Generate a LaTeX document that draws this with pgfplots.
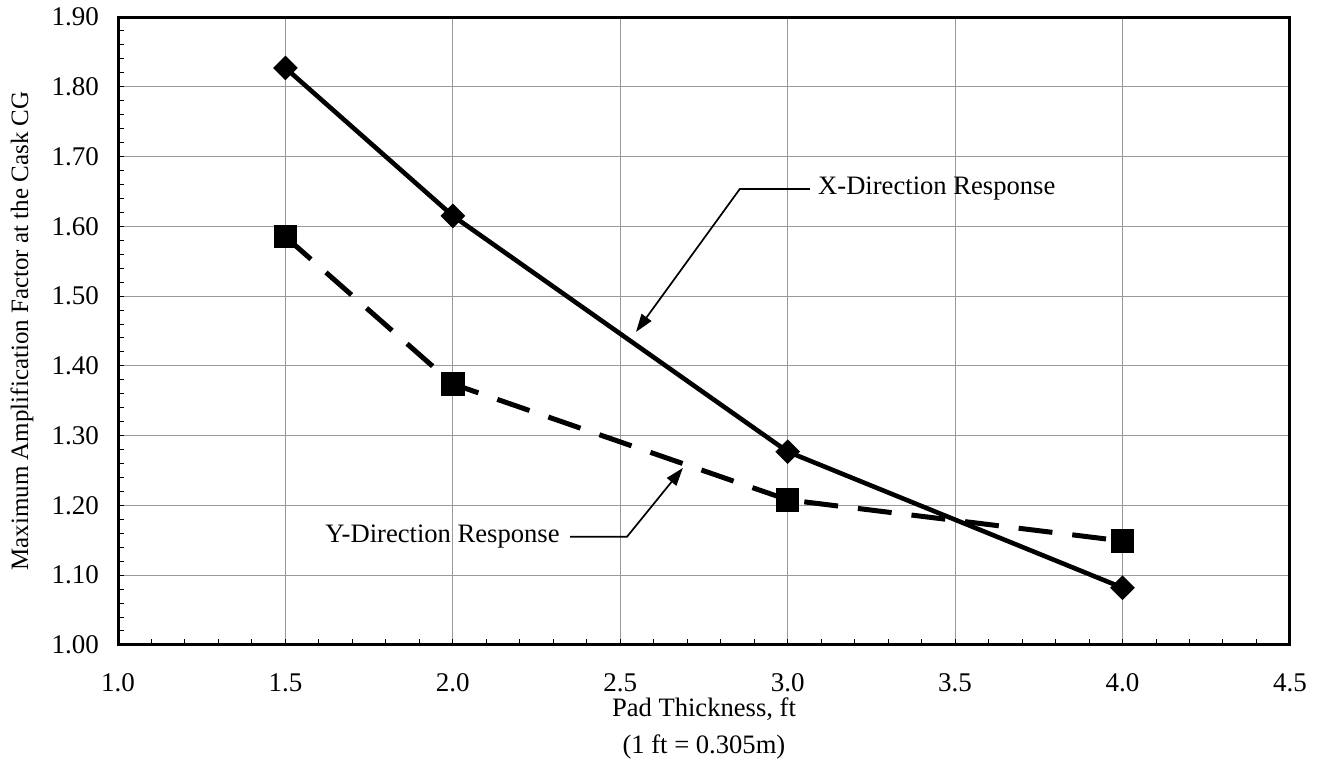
\documentclass[border=0pt]{standalone}
\usepackage{fontspec}
\setmainfont{Liberation Serif}
\usepackage{pgfplots}
\pgfplotsset{compat=1.18}
\usetikzlibrary{arrows.meta}

\begin{document}
\begin{tikzpicture}[font=\fontsize{13.3}{18.5}\selectfont]
\begin{axis}[
  scale only axis, width=586pt, height=314pt,
  xmin=1, xmax=4.5, ymin=1, ymax=1.9,
  xtick={1.0,1.5,2.0,2.5,3.0,3.5,4.0,4.5},
  ytick={1.0,1.1,1.2,1.3,1.4,1.5,1.6,1.7,1.8,1.9},
  minor x tick num=4, minor y tick num=4,
  tick align=inside, xtick pos=left, ytick pos=left,
  major tick length=3pt, minor tick length=3pt,
  grid=major, major grid style={gray!80, line width=0.4pt},
  axis line style={line width=1.5pt},
  tick style={black, line width=0.5pt},
  /pgf/number format/assume math mode=true,
  tick label style={font=\fontsize{13.5}{16}\selectfont},
  x tick label style={yshift=-11pt, /pgf/number format/.cd, fixed, fixed zerofill, precision=1},
  y tick label style={xshift=-6pt, /pgf/number format/.cd, fixed, fixed zerofill, precision=2},
  xlabel={Pad Thickness, ft\\(1 ft = 0.305m)},
  xlabel style={align=center, at={(axis description cs:0.5,-0.133)}, anchor=center},
  ylabel={Maximum Amplification Factor at the Cask CG},
  ylabel style={font=\fontsize{12.5}{15}\selectfont, at={(axis description cs:-0.0819,0.5)}, anchor=center},
]
\addplot[black, line width=2.3pt, mark=square*, mark size=3.2pt,
  mark options={solid, rotate=45}]
  coordinates {(1.5,1.827)(2.0,1.615)(3.0,1.277)(4.0,1.082)};
\addplot[black, line width=2.5pt, dash pattern=on 17pt off 10pt,
  mark=square*, mark size=4.6pt, mark options={solid}]
  coordinates {(1.5,1.585)(2.0,1.374)(3.0,1.208)(4.0,1.149)};

% callouts
\draw[line width=0.85pt, -{Triangle[length=9pt, width=6pt]}]
  (axis cs:3.066,1.6535) -- (axis cs:2.857,1.6535) -- (axis cs:2.547,1.4486);
\node[anchor=west, inner sep=0pt] at (axis cs:3.09,1.6535) {X-Direction Response};
\draw[line width=0.85pt, -{Triangle[length=9pt, width=6pt]}]
  (axis cs:2.35,1.155) -- (axis cs:2.52,1.155) -- (axis cs:2.687,1.2537);
\node[anchor=east, inner sep=0pt] at (axis cs:2.32,1.155) {Y-Direction Response};

\coordinate (bbl) at (rel axis cs:-0.1007,-0.1927);
\coordinate (btr) at (rel axis cs:1.0265,1.0271);
\end{axis}
\pgfresetboundingbox
\path[use as bounding box] (bbl) rectangle (btr);
\end{tikzpicture}
\end{document}
